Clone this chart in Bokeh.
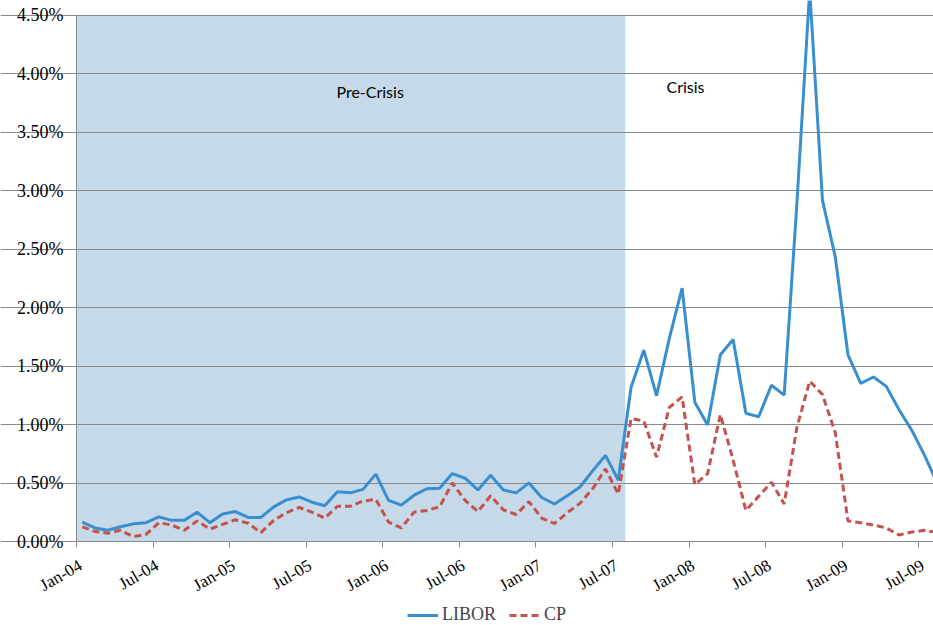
import math
import numpy as np
from bokeh.plotting import figure
from bokeh.models import Range1d, FixedTicker, Legend, LegendItem, Label
from bokeh.core.properties import value
from bokeh.embed import file_html
from bokeh.resources import INLINE

# Monthly spreads (%), Jan-04 .. Aug-09
libor = [0.17, 0.12, 0.10, 0.13, 0.155, 0.165, 0.215, 0.185, 0.185, 0.255, 0.165, 0.24,
         0.26, 0.21, 0.21, 0.30, 0.36, 0.385, 0.34, 0.31, 0.43, 0.42, 0.45, 0.58,
         0.355, 0.315, 0.40, 0.455, 0.46, 0.585, 0.545, 0.445, 0.57, 0.445, 0.42, 0.505,
         0.38, 0.325, 0.395, 0.47, 0.61, 0.74, 0.53, 1.32, 1.64, 1.25, 1.74, 2.17,
         1.195, 1.00, 1.60, 1.73, 1.10, 1.07, 1.34, 1.255, 2.90, 4.72, 2.92, 2.44,
         1.60, 1.355, 1.41, 1.33, 1.13, 0.955, 0.74, 0.50]
cp = [0.13, 0.09, 0.075, 0.10, 0.045, 0.065, 0.165, 0.145, 0.10, 0.18, 0.11, 0.15,
      0.19, 0.16, 0.08, 0.185, 0.25, 0.295, 0.255, 0.205, 0.305, 0.305, 0.35, 0.365,
      0.17, 0.12, 0.255, 0.27, 0.30, 0.505, 0.355, 0.26, 0.395, 0.275, 0.235, 0.345,
      0.205, 0.157, 0.25, 0.33, 0.455, 0.625, 0.41, 1.055, 1.035, 0.725, 1.15, 1.24,
      0.49, 0.585, 1.09, 0.70, 0.27, 0.39, 0.51, 0.325, 0.98, 1.375, 1.26, 0.935,
      0.18, 0.165, 0.145, 0.12, 0.06, 0.085, 0.10, 0.08]

tick_labels = ["Jan-04", "Jul-04", "Jan-05", "Jul-05", "Jan-06", "Jul-06",
               "Jan-07", "Jul-07", "Jan-08", "Jul-08", "Jan-09", "Jul-09"]
tick_months = [0, 6, 12, 18, 24, 30, 36, 42, 48, 54, 60, 66]
y_ticks = [0.0, 0.5, 1.0, 1.5, 2.0, 2.5, 3.0, 3.5, 4.0, 4.5]
y_tick_labels = ["0.00%", "0.50%", "1.00%", "1.50%", "2.00%", "2.50%",
                 "3.00%", "3.50%", "4.00%", "4.50%"]
period_names = ["Pre-Crisis", "Crisis"]
crisis_start = 43  # Aug-07 (months since Jan-04)

# month index, plotted at mid-month
x = np.arange(len(libor)) + 0.45

X_END = 67.15
PX_PER_PCT = 117.0
SERIF = "Liberation Serif"

# frame covers the whole page; both axes are fixed inside it so nothing is clipped
p = figure(frame_width=933, frame_height=625, output_backend="svg", toolbar_location=None,
           x_range=Range1d(-5.955, X_END), y_range=Range1d(-0.7137, 4.628),
           min_border_left=0, min_border_top=0, min_border_right=0, min_border_bottom=0)
p.outline_line_color = None
p.background_fill_color = "white"
p.border_fill_color = "white"

# shaded pre-crisis period
shade = p.quad(left=[0], right=[crisis_start], bottom=[0], top=[y_ticks[-1]],
               fill_color="#C6D9E8", line_color=None, level="image")

r1 = p.line(x, libor, line_color="#398ECF", line_width=3)
r2 = p.line(x, cp, line_color="#C4524F", line_width=3, line_dash="7 4")

axis_grey = "#8A8A8A"

# y axis fixed at Jan-04 (labels drawn as text glyphs below)
p.yaxis.fixed_location = 0
p.yaxis.ticker = FixedTicker(ticks=y_ticks)
p.yaxis.major_label_overrides = {t: "" for t in y_ticks}
p.yaxis.bounds = (0, y_ticks[-1])
p.yaxis.axis_line_color = axis_grey
p.yaxis.major_tick_line_color = axis_grey
p.yaxis.major_tick_out = 6
p.yaxis.major_tick_in = 0
p.yaxis.minor_tick_line_color = None

# x axis fixed at 0%
p.xaxis.fixed_location = 0
p.xaxis.ticker = FixedTicker(ticks=tick_months)
p.xaxis.major_label_overrides = {m: "" for m in tick_months}
p.xaxis.bounds = (0, X_END)
p.xaxis.axis_line_color = axis_grey
p.xaxis.major_tick_line_color = axis_grey
p.xaxis.major_tick_out = 6
p.xaxis.major_tick_in = 0
p.xaxis.minor_tick_line_color = None

# tick labels in a serif face
p.text(x=[0] * len(y_ticks), y=y_ticks, text=y_tick_labels,
       text_align="right", text_baseline="middle", x_offset=-13,
       text_font=value(SERIF), text_font_size="18px", text_color="black")
p.text(x=tick_months, y=[-22 / PX_PER_PCT] * len(tick_months), text=tick_labels,
       angle=math.pi / 6, text_align="right", text_baseline="middle", x_offset=4,
       text_font=value(SERIF), text_font_size="17px", text_color="black")

# grid
p.xgrid.grid_line_color = None
p.ygrid.ticker = FixedTicker(ticks=y_ticks)
p.ygrid.bounds = (0, X_END)
p.ygrid.grid_line_color = axis_grey
p.ygrid.grid_line_width = 1

# period labels
p.add_layout(Label(x=20.37, y=3.85, text=period_names[0], text_font="Lato",
                   text_font_size="16px", text_color="black", text_baseline="alphabetic"))
p.add_layout(Label(x=46.23, y=3.89, text=period_names[1], text_font="Lato",
                   text_font_size="16px", text_color="black", text_baseline="alphabetic"))

legend = Legend(items=[LegendItem(label="LIBOR", renderers=[r1]),
                       LegendItem(label="CP", renderers=[r2])],
                orientation="horizontal", location=(407, 0),
                label_text_font=SERIF, label_text_font_size="18px",
                glyph_width=31, glyph_height=18, label_standoff=4, spacing=13,
                padding=0, margin=0, border_line_color=None,
                background_fill_alpha=0)
p.add_layout(legend)

open("out.html", "w").write(file_html(p, INLINE))
